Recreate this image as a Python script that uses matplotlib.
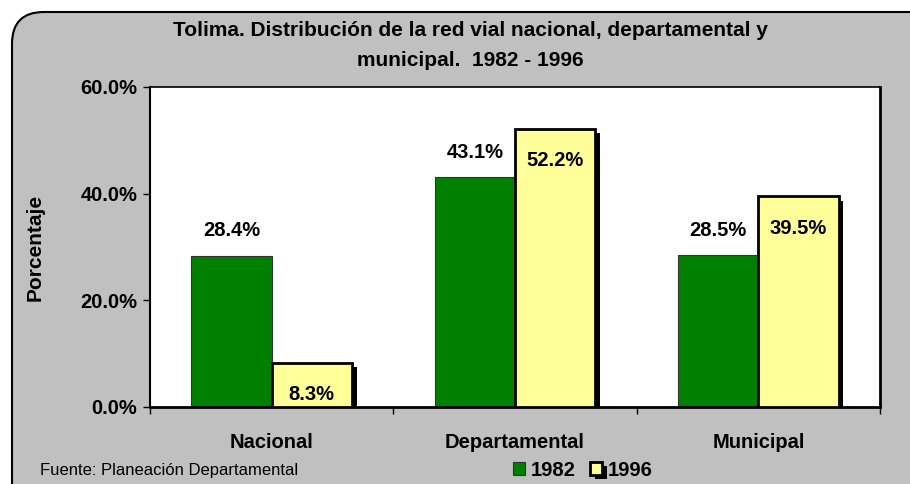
import matplotlib.pyplot as plt
import matplotlib.patheffects as pe
from matplotlib.patches import FancyBboxPatch

plt.rcParams['font.family'] = ['Liberation Sans', 'DejaVu Sans']

categories = ['Nacional', 'Departamental', 'Municipal']
values_1982 = [28.4, 43.1, 28.5]
values_1996 = [8.3, 52.2, 39.5]
series_labels = ['1982', '1996']

fig = plt.figure(figsize=(9.1, 4.84), dpi=100)
fig.patch.set_facecolor('white')

# rounded gray background
bg = FancyBboxPatch((12 / 910, -0.1), 1.1, 1.1 - 12 / 484,
                    boxstyle='round,pad=0,rounding_size=0.035',
                    transform=fig.transFigure, facecolor='#C0C0C0',
                    edgecolor='black', linewidth=1.5, zorder=-10,
                    mutation_aspect=910 / 484)
fig.patches.append(bg)

ax = fig.add_axes([150 / 910, 77 / 484, 730 / 910, 320 / 484])
ax.set_facecolor('white')

x = list(range(len(categories)))
w = 0.33
bars1 = ax.bar([i - w / 2 for i in x], values_1982, width=w, color='#008000',
               edgecolor='#333333', linewidth=0.8, label=series_labels[0], zorder=2)
bars2 = ax.bar([i + w / 2 for i in x], values_1996, width=w, color='#FFFF99',
               edgecolor='black', linewidth=2, label=series_labels[1], zorder=3)
for b in bars2:
    b.set_path_effects([pe.SimplePatchShadow(offset=(3.5, -3), shadow_rgbFace='black', alpha=1),
                        pe.Normal()])

for b, v in zip(bars1, values_1982):
    ax.annotate(f'{v:.1f}%', (b.get_x() + b.get_width() / 2, v), xytext=(0, 18),
                textcoords='offset points', ha='center', va='center',
                fontsize=14.5, fontweight='bold', zorder=5)
for b, v in zip(bars2, values_1996):
    ax.annotate(f'{v:.1f}%', (b.get_x() + b.get_width() / 2, v), xytext=(0, -23),
                textcoords='offset points', ha='center', va='center',
                fontsize=14.5, fontweight='bold', zorder=5)

ax.set_xlim(-0.5, 2.5)
ax.set_ylim(0, 60)
ax.set_yticks([0, 20, 40, 60])
ax.set_yticklabels([f'{t:.1f}%' for t in [0, 20, 40, 60]], fontsize=14.5, fontweight='bold')
ax.set_xticks([-0.5, 0.5, 1.5, 2.5])
ax.set_xticklabels([])
ax.set_xticks(x, minor=True)
ax.set_xticklabels(categories, minor=True, fontsize=14.5, fontweight='bold')
ax.tick_params(axis='x', which='minor', length=0, pad=19)
ax.tick_params(axis='x', which='major', length=5, width=1, direction='out')
ax.tick_params(axis='y', length=5, width=1, direction='out', pad=4)
for s in ax.spines.values():
    s.set_color('black')
    s.set_linewidth(1.2)
ax.spines['bottom'].set_linewidth(2)
ax.spines['right'].set_linewidth(2)
ax.spines['left'].set_linewidth(1.5)

ax.set_ylabel('Porcentaje', fontsize=15, fontweight='bold', labelpad=26)

fig.text(470 / 910, 1 - 30 / 484, 'Tolima. Distribución de la red vial nacional, departamental y',
         ha='center', va='center', fontsize=15, fontweight='bold')
fig.text(470 / 910, 1 - 60 / 484, 'municipal.  1982 - 1996',
         ha='center', va='center', fontsize=15, fontweight='bold')
fig.text(40 / 910, 1 - 470 / 484, 'Fuente: Planeación Departamental',
         ha='left', va='center', fontsize=12)

fig.legend(handles=[bars1, bars2], labels=series_labels, loc='center',
           bbox_to_anchor=(583 / 910, 1 - 470 / 484), ncol=2, frameon=False,
           prop={'weight': 'bold', 'size': 14.5}, handlelength=0.6, handleheight=0.6,
           handletextpad=0.3, columnspacing=0.7)

fig.savefig('out.png', dpi=100)
